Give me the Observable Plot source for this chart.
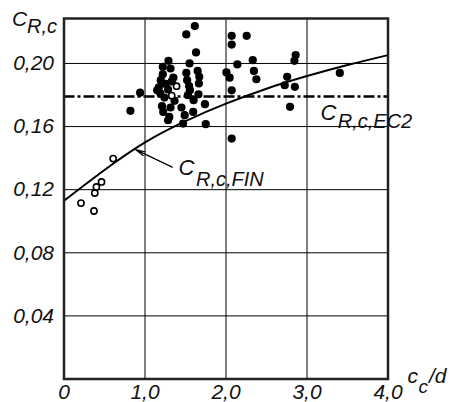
<!DOCTYPE html>
<html>
<head>
<meta charset="utf-8">
<script src="https://cdn.jsdelivr.net/npm/d3@7"></script>
<script src="https://cdn.jsdelivr.net/npm/@observablehq/plot@0.6"></script>
<style>
  html, body { margin: 0; padding: 0; background: #fff; }
  svg { display: block; }
</style>
</head>
<body>
<div id="chart"></div>
<script>
// Measured points (filled = tests, open = other series)
const filledX = [0.82,0.94,1.615,1.51,1.63,1.29,1.22,1.55,1.315,1.22,1.35,1.51,1.65,1.195,1.33,1.52,1.67,1.17,1.545,1.665,1.285,1.19,1.24,1.53,1.66,1.365,1.60,1.74,1.21,1.315,1.45,1.225,1.595,1.30,1.49,1.285,1.47,1.75,1.15,1.255,1.555,2.07,2.07,2.255,2.33,2.14,2.005,2.045,2.345,2.375,2.07,2.07,2.86,2.845,2.755,2.725,2.85,2.79,3.405];
const filledY = [0.170,0.1815,0.2237,0.2184,0.207,0.2017,0.1979,0.200,0.1968,0.1932,0.191,0.194,0.1953,0.1894,0.1886,0.1894,0.1915,0.1848,0.1856,0.1873,0.1835,0.181,0.1784,0.1799,0.1805,0.1763,0.1767,0.1742,0.1729,0.1721,0.1721,0.1693,0.1693,0.1661,0.1672,0.164,0.1619,0.1615,0.183,0.187,0.183,0.2175,0.212,0.2175,0.2021,0.1994,0.1943,0.191,0.1953,0.190,0.183,0.1524,0.2053,0.2017,0.1915,0.1862,0.1852,0.1725,0.194];
const openX = [0.607,0.463,0.40,0.38,0.21,0.37,1.39,1.33];
const openY = [0.1397,0.1249,0.1217,0.1179,0.1115,0.1065,0.1856,0.1796];

// C_R,c,FIN curve
const curveX = [0,0.5,1,1.5,2,2.5,3,3.5,4];
const curveY = [0.113,0.1325,0.150,0.1635,0.1745,0.1840,0.1920,0.1990,0.2053];

// C_R,c,EC2 constant
const ec2Value = 0.179;

// Axes
const xTicks = [0,1,2,3,4];
const xTickLabels = ["0","1,0","2,0","3,0","4,0"];
const yTicks = [0.04,0.08,0.12,0.16,0.20];
const yTickLabels = ["0,04","0,08","0,12","0,16","0,20"];
const xGrid = [1,2,3];

const filled = filledX.map((x,i)=>({x, y: filledY[i]}));
const open = openX.map((x,i)=>({x, y: openY[i]}));
const curve = curveX.map((x,i)=>({x, y: curveY[i]}));

const FONT = "'Liberation Sans', Arial, sans-serif";
const txt = {fontSize: 20, fontStyle: "italic", fill: "#111", textAnchor: "start", lineAnchor: "bottom"};

const chart = Plot.plot({
  width: 455,
  height: 402,
  marginLeft: 63.5,
  marginRight: 67.5,
  marginTop: 18,
  marginBottom: 23.5,
  style: {fontFamily: FONT, background: "#fff", overflow: "visible"},
  x: {domain: [0, 4]},
  y: {domain: [0, 0.2285]},
  marks: [
    Plot.gridX(xGrid, {stroke: "#000", strokeOpacity: 1, strokeWidth: 1}),
    Plot.gridY(yTicks, {stroke: "#000", strokeOpacity: 1, strokeWidth: 1}),
    Plot.ruleY([ec2Value], {stroke: "#000", strokeWidth: 2.5, strokeDasharray: "11,3,3,3"}),
    Plot.line(curve, {x: "x", y: "y", curve: "natural", stroke: "#000", strokeWidth: 2}),
    Plot.dot(filled, {x: "x", y: "y", r: 4.1, fill: "#000", stroke: "none"}),
    Plot.dot(open, {x: "x", y: "y", r: 3.1, fill: "#fff", stroke: "#000", strokeWidth: 1.6}),
    Plot.arrow([{x1: 1.336, y1: 0.1343, x2: 0.883, y2: 0.1454}], {x1: "x1", y1: "y1", x2: "x2", y2: "y2", stroke: "#000", strokeWidth: 1.2, headLength: 12, headAngle: 25}),
    Plot.frame({stroke: "#222", strokeWidth: 2.5}),
    Plot.axisX(xTicks, {tickSize: 0, tickPadding: 5, fontSize: 21, fontStyle: "italic", fill: "#111", tickFormat: (d, i) => xTickLabels[i]}),
    Plot.axisY(yTicks, {tickSize: 0, tickPadding: 10, fontSize: 21, fontStyle: "italic", fill: "#111", tickFormat: (d, i) => yTickLabels[i]}),
    // Labels of the lines
    Plot.text(["C"], {x: 1.414, y: 0.1291, ...txt, fontSize: 22}),
    Plot.text(["R,c,FIN"], {x: 1.63, y: 0.1221, ...txt}),
    Plot.text(["C"], {x: 3.167, y: 0.164, ...txt, fontSize: 22}),
    Plot.text(["R,c,EC2"], {x: 3.38, y: 0.1589, ...txt}),
    // Axis titles
    Plot.text(["C"], {frameAnchor: "top-left", dx: -52, dy: 7.5, ...txt, fontSize: 21}),
    Plot.text(["R,c"], {frameAnchor: "top-left", dx: -37, dy: 14.5, ...txt}),
    Plot.text(["c"], {frameAnchor: "bottom-right", dx: 19.5, dy: 3.5, ...txt, fontSize: 21}),
    Plot.text(["c"], {frameAnchor: "bottom-right", dx: 30.5, dy: 13.5, ...txt, fontSize: 19}),
    Plot.text(["/d"], {frameAnchor: "bottom-right", dx: 41, dy: 3.5, ...txt, fontSize: 21})
  ]
});
document.getElementById("chart").appendChild(chart);
</script>
</body>
</html>
